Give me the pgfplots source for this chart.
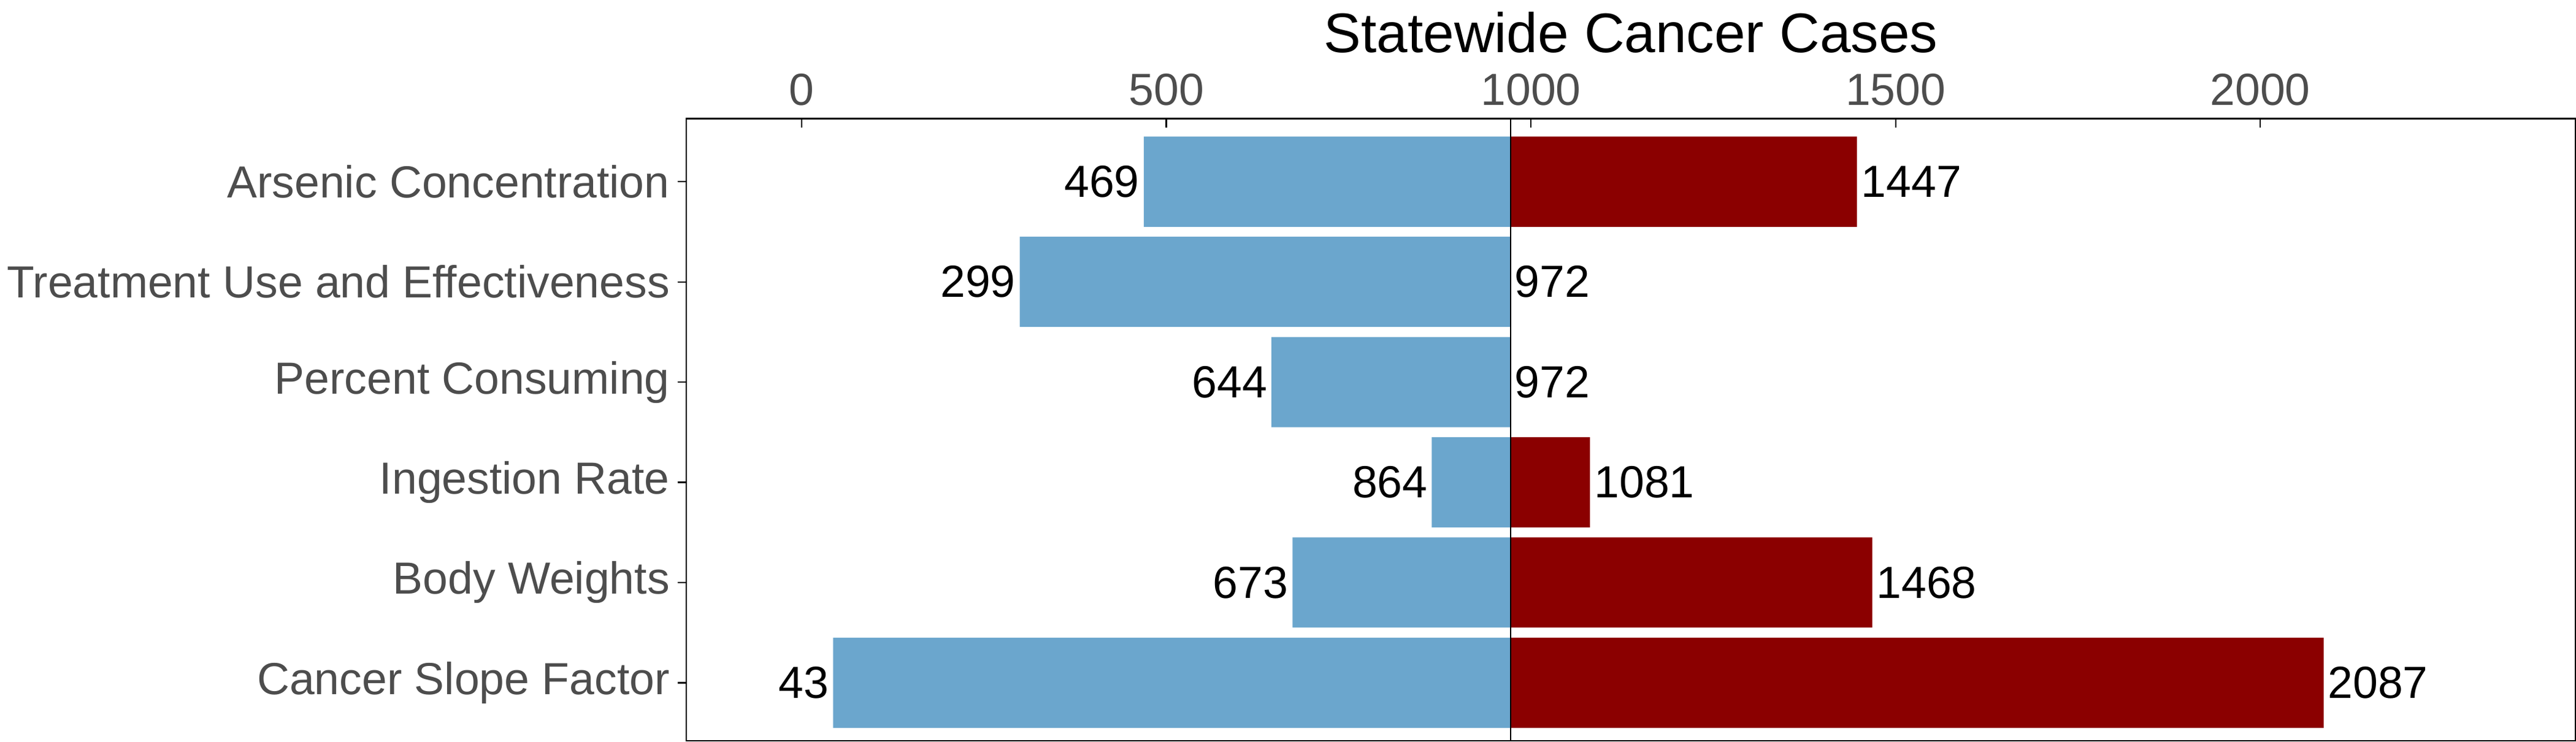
\documentclass[border=0pt]{standalone}
\usepackage{pgfplots}
\pgfplotsset{compat=1.18}
\usepackage{fontspec}
\setmainfont{Liberation Sans}
\definecolor{lowc}{HTML}{6BA6CD}
\definecolor{highc}{HTML}{8B0000}
\definecolor{tickc}{HTML}{4D4D4D}
\begin{document}
\begin{tikzpicture}
\begin{axis}[
  scale only axis, width=525pt, height=173pt,
  xmin=-1130, xmax=1460, ymin=-0.58, ymax=5.63,
  xtick={-972,-472,28,528,1028},
  xticklabels={0,500,1000,1500,2000},
  xticklabel pos=upper,
  xlabel={Statewide Cancer Cases},
  xlabel style={font=\fontsize{15.5}{17}\selectfont, yshift=-1pt},
  ytick={0,1,2,3,4,5},
  yticklabels={Cancer Slope Factor,Body Weights,Ingestion Rate,Percent Consuming,Treatment Use and Effectiveness,Arsenic Concentration},
  ticklabel style={font=\fontsize{12.5}{14}\selectfont, text=tickc},
  yticklabel style={inner sep=2pt},
  /pgf/number format/assume math mode=true,
  tick style={black, thin}, major tick length=2.5pt,
  tick pos=upper, ytick pos=left,
  axis line style={black, thin},
  xbar, bar width=0.9, bar shift=0pt,
  point meta=explicit symbolic,
  nodes near coords,
  every node near coord/.append style={font=\fontsize{12.5}{14}\selectfont, text=black, inner sep=1pt},
]
\addplot[fill=lowc, draw=none, every node near coord/.append style={anchor=east}]
 coordinates {(-929,0)[43] (-299,1)[673] (-108,2)[864] (-328,3)[644] (-673,4)[299] (-503,5)[469]};
\addplot[fill=highc, draw=none, every node near coord/.append style={anchor=west}]
 coordinates {(1115,0)[2087] (496,1)[1468] (109,2)[1081] (0,3)[972] (0,4)[972] (475,5)[1447]};
\draw[black, thin] (axis cs:0,-0.58) -- (axis cs:0,5.63);
\end{axis}
\end{tikzpicture}
\end{document}
